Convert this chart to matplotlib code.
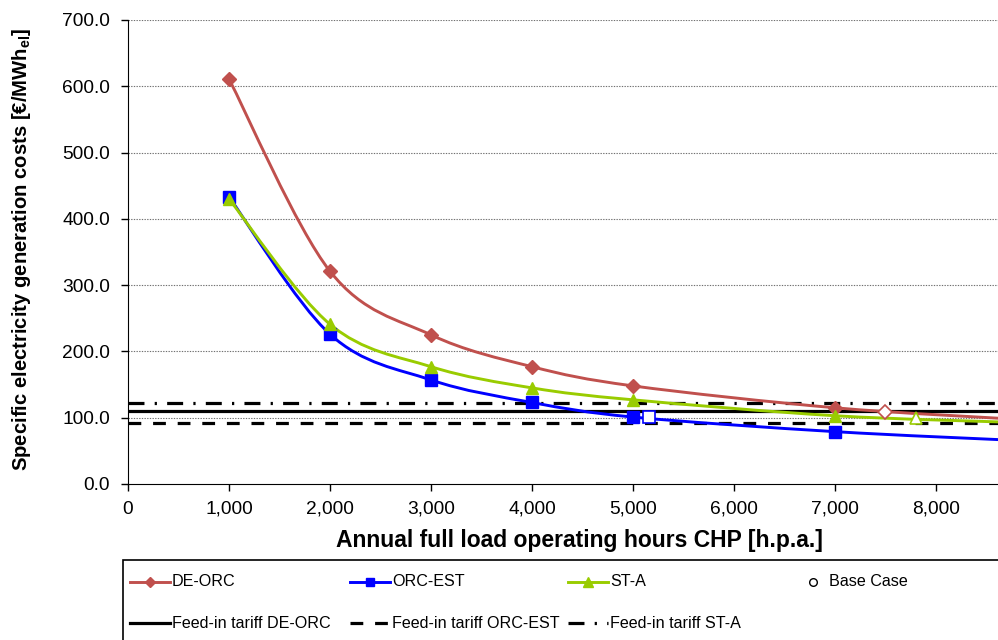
import numpy as np
import matplotlib
matplotlib.use('Agg')
import matplotlib.pyplot as plt
from matplotlib.path import Path
from matplotlib.patches import PathPatch, Rectangle
from matplotlib.lines import Line2D
from matplotlib.ticker import FuncFormatter, MultipleLocator

plt.rcParams['font.family'] = ['Liberation Sans', 'DejaVu Sans']
plt.rcParams['mathtext.fontset'] = 'custom'
plt.rcParams['mathtext.rm'] = 'Liberation Sans'
plt.rcParams['mathtext.bf'] = 'Liberation Sans:bold'

# data
hours = [1000, 2000, 3000, 4000, 5000, 7000, 8760]
de_orc = [611, 321, 225, 177, 148, 115, 98]
orc_est = [433, 226, 157, 123, 101, 79, 66]
st_a = [430, 241, 177, 145, 127, 103, 93]

# base case points (hours, cost)
base_hours = [7500, 5160, 7800]
base_cost = [109, 101, 100]

# feed-in tariffs
tariff_de_orc = 110.5
tariff_orc_est = 91.5
tariff_st_a = 122

C_RED = '#C0504D'
C_BLUE = '#0000FF'
C_GREEN = '#99CC00'

W, H = 998, 640
fig = plt.figure(figsize=(W / 100, H / 100), dpi=100)


def fx(px):
    return px / W


def fy(py):
    return 1 - py / H


ax = fig.add_axes([fx(128), fy(484), (W - 128) / W, (484 - 20) / H])


# smooth line like excel (bezier through the points)
def smooth_path(xs, ys):
    pts = np.column_stack([xs, ys]).astype(float)
    n = len(pts)
    verts = [pts[0]]
    codes = [Path.MOVETO]
    for i in range(n - 1):
        p0 = pts[i - 1] if i > 0 else pts[i]
        p1 = pts[i]
        p2 = pts[i + 1]
        p3 = pts[i + 2] if i + 2 < n else pts[i + 1]
        verts += [p1 + (p2 - p0) / 6, p2 - (p3 - p1) / 6, p2]
        codes += [Path.CURVE4] * 3
    return Path(verts, codes)


# grid
for v in range(100, 701, 100):
    ax.axhline(v, color='#707070', lw=0.8, ls=(0, (1.2, 1.2)), zorder=1)

# tariffs
ax.axhline(tariff_de_orc, color='black', lw=2.3, zorder=2)
ax.axhline(tariff_orc_est, color='black', lw=2.3, ls=(0, (4, 3.7)), zorder=2)
ax.axhline(tariff_st_a, color='black', lw=2.3, ls=(0, (5, 3.2, 0.7, 3.2)), zorder=2)

series = [(de_orc, C_RED, 'D', 7), (orc_est, C_BLUE, 's', 8.5), (st_a, C_GREEN, '^', 9)]
for ys, col, mk, ms in series:
    ax.add_patch(PathPatch(smooth_path(hours, ys), fill=False, edgecolor=col, lw=2.1, zorder=3))
    ax.plot(hours, ys, ls='none', marker=mk, ms=ms, color=col, zorder=4)

# base case markers
for (ys, col, mk, ms), bx, by in zip(series, base_hours, base_cost):
    ax.plot([bx], [by], ls='none', marker=mk, ms=ms, mfc='white', mec=col, mew=1.2, zorder=5)

ax.set_xlim(0, 8615)
ax.set_ylim(0, 700)
ax.xaxis.set_major_locator(MultipleLocator(1000))
ax.yaxis.set_major_locator(MultipleLocator(100))
ax.xaxis.set_major_formatter(FuncFormatter(lambda v, p: f'{v:,.0f}'))
ax.yaxis.set_major_formatter(FuncFormatter(lambda v, p: f'{v:.1f}'))
ax.tick_params(labelsize=13.8, length=5, width=1, direction='out', color='black')
ax.tick_params(axis='x', pad=7)
ax.tick_params(axis='y', pad=8)
ax.spines['top'].set_visible(False)
ax.spines['right'].set_visible(False)

fig.text(fx(579), fy(541), 'Annual full load operating hours CHP [h.p.a.]',
         fontsize=16.5, fontweight='bold', ha='center', va='center')
fig.text(fx(22), fy(249), r'Specific electricity generation costs [€/MWh$_{\mathbf{el}}$]',
         fontsize=14.6, fontweight='bold', ha='center', va='center', rotation=90)

# legend box drawn by hand
fig.add_artist(Rectangle((fx(123), fy(H + 5)), fx(W + 5) - fx(123), fy(560) - fy(H + 5),
                         transform=fig.transFigure, fill=False, ec='black', lw=1.2))

row1, row2 = 582, 623
cols = [130, 350, 568, 787]
hl = 40
leg_fs = 11.6

for c, (ys, col, mk, ms), name in zip(cols, series, ['DE-ORC', 'ORC-EST', 'ST-A']):
    fig.add_artist(Line2D([fx(c), fx(c + hl)], [fy(row1)] * 2, color=col, lw=2.1,
                          transform=fig.transFigure))
    fig.add_artist(Line2D([fx(c + hl / 2)], [fy(row1)], color=col, marker=mk, ms=ms * 0.75,
                          transform=fig.transFigure))
    fig.text(fx(c + hl + 2), fy(row1), name, fontsize=leg_fs, va='center')

fig.add_artist(Line2D([fx(cols[3] + 26)], [fy(row1)], ls='none', marker='o', ms=5.5,
                      mfc='white', mec='black', mew=1, transform=fig.transFigure))
fig.text(fx(cols[3] + 42), fy(row1), 'Base Case', fontsize=leg_fs, va='center')

styles = ['-', (0, (4, 3.7)), (0, (5, 3.2, 0.7, 3.2, 0.7, 3.2))]
names = ['Feed-in tariff DE-ORC', 'Feed-in tariff ORC-EST', 'Feed-in tariff ST-A']
for c, st, name in zip(cols, styles, names):
    fig.add_artist(Line2D([fx(c), fx(c + hl)], [fy(row2)] * 2, color='black', lw=2.3, ls=st,
                          transform=fig.transFigure))
    fig.text(fx(c + hl + 2), fy(row2), name, fontsize=leg_fs, va='center')

fig.savefig('out.png', dpi=100)
